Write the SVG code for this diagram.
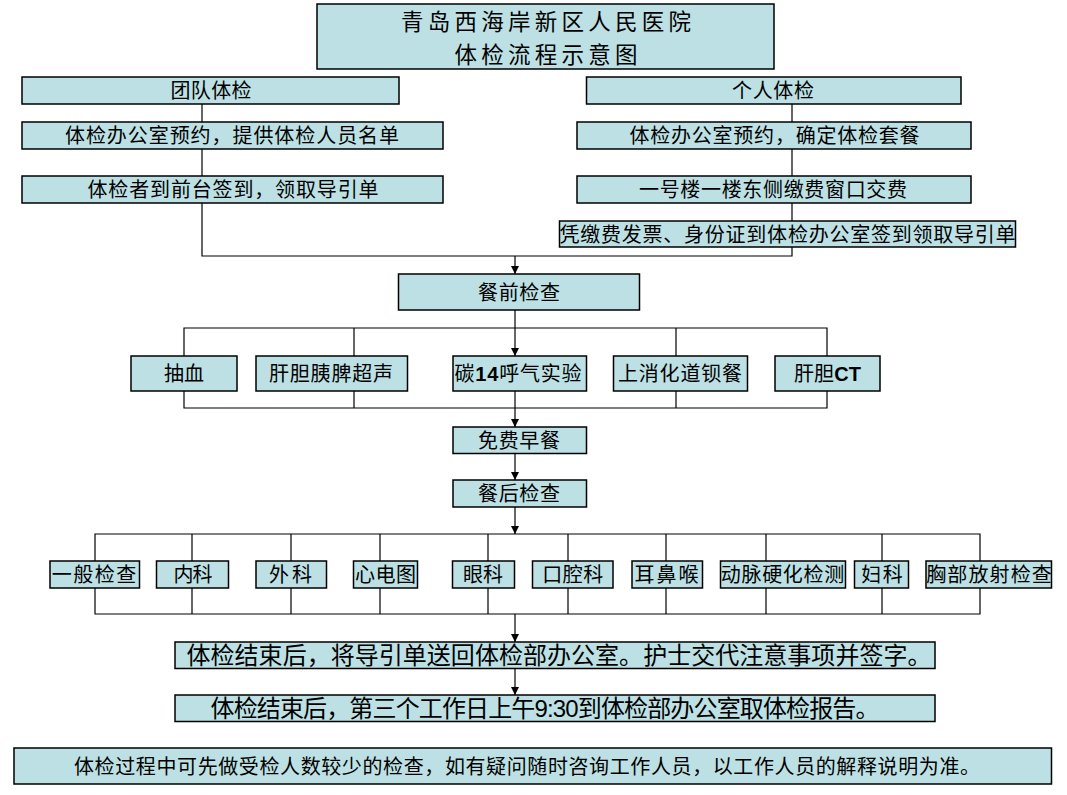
<svg xmlns="http://www.w3.org/2000/svg" width="1067" height="795" viewBox="0 0 1067 795">
<defs>
<style>
.box{fill:#BCE0E3;stroke:#000;stroke-width:1.5}
.t{font-family:"Noto Sans CJK SC","Liberation Sans",sans-serif;font-size:20px;fill:#000;text-anchor:middle}
.big{font-size:24px}
.title{font-size:22.5px}
.lat{font-family:"Liberation Sans",Arial,sans-serif}
.c{fill:none;stroke:#000;stroke-width:1.2}
</style>
<marker id="ah" viewBox="0 0 10 10" refX="10" refY="5" markerWidth="8" markerHeight="8" markerUnits="userSpaceOnUse" orient="auto">
<path d="M0,0 L10,5 L0,10 Z" fill="#000"/>
</marker>
</defs>
<rect width="1067" height="795" fill="#fff"/>
<g id="connectors">
<path class="c" d="M202,104 V256 H792 V104"/>
<path class="c" d="M515,256 V274" marker-end="url(#ah)"/>
<path class="c" d="M515,310 V356" marker-end="url(#ah)"/>
<path class="c" d="M184,356 V328 H827 V356 M354,328 V356 M676,328 V356"/>
<path class="c" d="M184,391 V408 H827 V391 M354,391 V408 M676,391 V408"/>
<path class="c" d="M515,391 V427" marker-end="url(#ah)"/>
<path class="c" d="M515,453 V480" marker-end="url(#ah)"/>
<path class="c" d="M515,507 V534" marker-end="url(#ah)"/>
<path class="c" d="M95,561 V534 H980 V561 M192,534 V561 M291,534 V561 M380,534 V561 M488,534 V561 M568,534 V561 M666,534 V561 M766,534 V561 M882,534 V561"/>
<path class="c" d="M95,588 V614 H980 V588 M192,588 V614 M291,588 V614 M380,588 V614 M488,588 V614 M568,588 V614 M666,588 V614 M766,588 V614 M882,588 V614"/>
<path class="c" d="M515,614 V642" marker-end="url(#ah)"/>
<path class="c" d="M515,668 V695" marker-end="url(#ah)"/>
</g>
<g id="title"><rect class="box" x="317" y="4" width="457" height="65"/>
<text class="t title" x="546" y="30" textLength="290">青岛西海岸新区人民医院</text>
<text class="t title" x="546" y="63" textLength="183">体检流程示意图</text></g>
<g id="team"><rect class="box" x="22" y="77" width="377" height="27"/><text class="t" x="211" y="98" textLength="81">团队体检</text></g>
<g id="team1"><rect class="box" x="22" y="122" width="421" height="27"/><text class="t" x="232" y="143" textLength="334">体检办公室预约，提供体检人员名单</text></g>
<g id="team2"><rect class="box" x="22" y="176" width="421" height="27"/><text class="t" x="233" y="197" textLength="291">体检者到前台签到，领取导引单</text></g>
<g id="personal"><rect class="box" x="586.5" y="77" width="374.5" height="27"/><text class="t" x="773" y="98" textLength="82">个人体检</text></g>
<g id="personal1"><rect class="box" x="577" y="122" width="394" height="27"/><text class="t" x="774.5" y="143" textLength="290">体检办公室预约，确定体检套餐</text></g>
<g id="personal2"><rect class="box" x="577" y="176" width="394" height="27"/><text class="t" x="773" y="197" textLength="268">一号楼一楼东侧缴费窗口交费</text></g>
<g id="personal3"><rect class="box" x="559.5" y="221" width="456" height="26"/><text class="t" x="787.5" y="241.5" textLength="456">凭缴费发票、身份证到体检办公室签到领取导引单</text></g>
<g id="pre"><rect class="box" x="398.5" y="274" width="241" height="36"/><text class="t" x="519" y="299.5" textLength="82">餐前检查</text></g>
<g id="p1"><rect class="box" x="131" y="356" width="106" height="35"/><text class="t" x="184" y="381" textLength="40">抽血</text></g>
<g id="p2"><rect class="box" x="256" y="356" width="151.5" height="35"/><text class="t" x="331" y="381" textLength="124">肝胆胰脾超声</text></g>
<g id="p3"><rect class="box" x="453" y="356" width="133.5" height="35"/><text class="t" x="518" y="381" textLength="127">碳<tspan class="lat" font-weight="bold">14</tspan>呼气实验</text></g>
<g id="p4"><rect class="box" x="613.5" y="356" width="134" height="35"/><text class="t" x="680" y="381" textLength="124">上消化道钡餐</text></g>
<g id="p5"><rect class="box" x="775" y="356" width="105" height="35"/><text class="t" x="827.5" y="381" textLength="67">肝胆<tspan class="lat" font-weight="bold">CT</tspan></text></g>
<g id="breakfast"><rect class="box" x="453" y="427" width="133.5" height="26.5"/><text class="t" x="519" y="447.5" textLength="82">免费早餐</text></g>
<g id="post"><rect class="box" x="453" y="480" width="133.5" height="27"/><text class="t" x="519" y="501" textLength="82">餐后检查</text></g>
<g id="q1"><rect class="box" x="50" y="561" width="89.5" height="27"/><text class="t" x="94" y="582" textLength="84.6">一般检查</text></g>
<g id="q2"><rect class="box" x="156.5" y="561" width="72" height="27"/><text class="t" x="193" y="582" textLength="39">内科</text></g>
<g id="q3"><rect class="box" x="256" y="561" width="70.5" height="27"/><text class="t" x="290.5" y="582" textLength="43">外科</text></g>
<g id="q4"><rect class="box" x="353.5" y="561" width="64" height="27"/><text class="t" x="385.5" y="582" textLength="61">心电图</text></g>
<g id="q5"><rect class="box" x="452.5" y="561" width="62" height="27"/><text class="t" x="483" y="582" textLength="40">眼科</text></g>
<g id="q6"><rect class="box" x="532.5" y="561" width="80.5" height="27"/><text class="t" x="572.7" y="582" textLength="61">口腔科</text></g>
<g id="q7"><rect class="box" x="632" y="561" width="70.5" height="27"/><text class="t" x="666.5" y="582" textLength="64">耳鼻喉</text></g>
<g id="q8"><rect class="box" x="720.5" y="561" width="125" height="27"/><text class="t" x="782.5" y="582" textLength="123.6">动脉硬化检测</text></g>
<g id="q9"><rect class="box" x="854.5" y="561" width="54" height="27"/><text class="t" x="882" y="582" textLength="41.6">妇科</text></g>
<g id="q10"><rect class="box" x="926" y="561" width="125.5" height="27"/><text class="t" x="989" y="582" textLength="125.6">胸部放射检查</text></g>
<g id="end1"><rect class="box" x="175" y="642" width="760" height="26.5"/><text class="t big" x="559" y="664" textLength="745">体检结束后，将导引单送回体检部办公室。护士交代注意事项并签字。</text></g>
<g id="end2"><rect class="box" x="175" y="695" width="760" height="26.5"/><text class="t big" x="545" y="717" textLength="669">体检结束后，第三个工作日上午<tspan class="lat">9:30</tspan>到体检部办公室取体检报告。</text></g>
<g id="note"><rect class="box" x="14" y="748" width="1037.5" height="36"/><text class="t" x="527" y="773.5" textLength="906">体检过程中可先做受检人数较少的检查，如有疑问随时咨询工作人员，以工作人员的解释说明为准。</text></g>
</svg>
